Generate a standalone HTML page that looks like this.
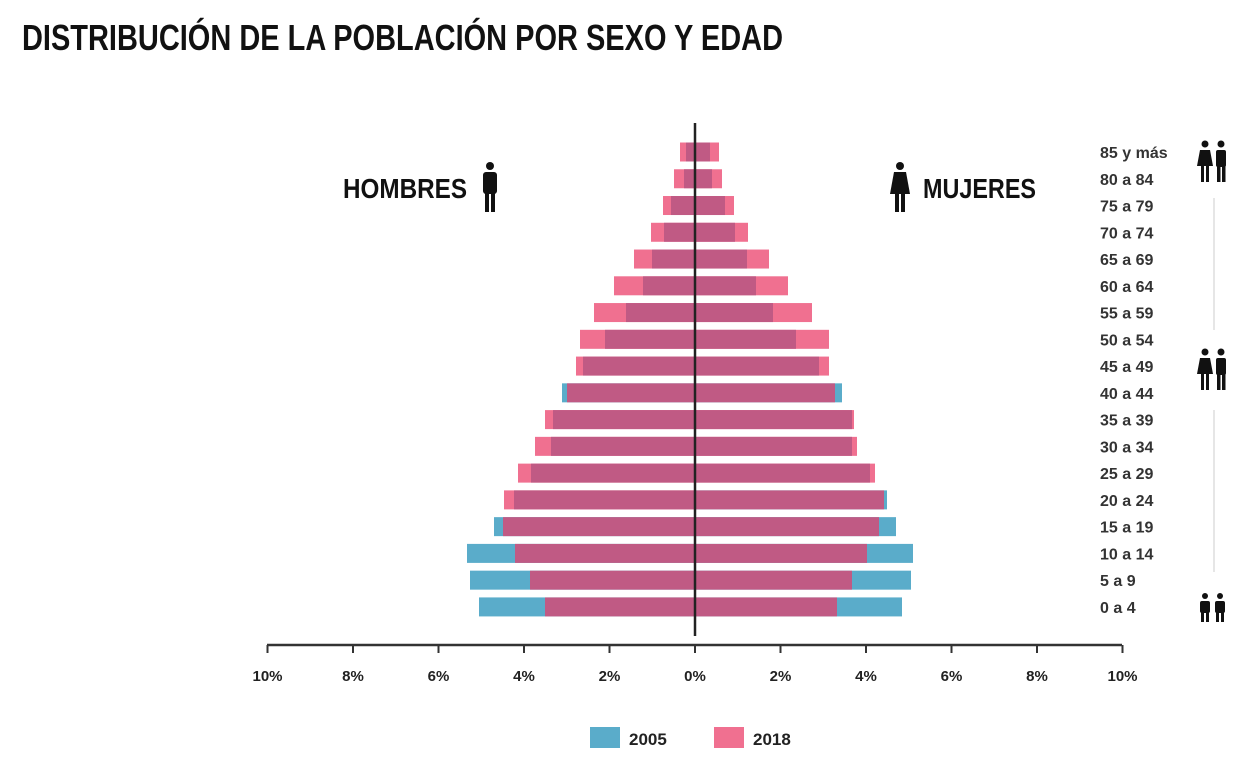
<!DOCTYPE html>
<html><head><meta charset="utf-8"><style>
body{margin:0;background:#fff;}
svg{display:block;font-family:"Liberation Sans",sans-serif;}
</style></head><body>
<svg width="1250" height="772" viewBox="0 0 1250 772">
<text x="22" y="50" font-size="36" font-weight="bold" fill="#111" textLength="761" lengthAdjust="spacingAndGlyphs">DISTRIBUCIÓN DE LA POBLACIÓN POR SEXO Y EDAD</text>
<g id="bars"></g>
<line x1="695" y1="123" x2="695" y2="636" stroke="#222" stroke-width="2.5"/>
<line x1="267" y1="645" x2="1122" y2="645" stroke="#333" stroke-width="2.5"/>
<g id="ticks" font-size="15" font-weight="bold" fill="#222" text-anchor="middle"></g>
<text x="343" y="198" font-size="28" font-weight="bold" fill="#111" textLength="124" lengthAdjust="spacingAndGlyphs">HOMBRES</text>
<text x="923" y="198" font-size="28" font-weight="bold" fill="#111" textLength="113" lengthAdjust="spacingAndGlyphs">MUJERES</text>
<!-- man icon -->
<g fill="#111">
<circle cx="490" cy="166" r="4"/><rect x="483" y="172" width="14" height="22" rx="3"/><rect x="485" y="192" width="4" height="20"/><rect x="491" y="192" width="4" height="20"/>
<circle cx="900" cy="166" r="4"/><path d="M894 172h12l4 22h-20z"/><rect x="895" y="192" width="4" height="20"/><rect x="901" y="192" width="4" height="20"/>
</g>
<g id="labels" font-size="16" font-weight="bold" fill="#333"></g>
<g fill="#111">
<circle cx="1205" cy="144" r="3.5"/><path d="M1200 150h10l3 16h-16z"/><rect x="1201" y="164" width="3" height="18"/><rect x="1206" y="164" width="3" height="18"/>
<circle cx="1221" cy="144" r="3.5"/><rect x="1216" y="150" width="10" height="17" rx="2"/><rect x="1217" y="165" width="3.5" height="17"/><rect x="1222" y="165" width="3.5" height="17"/>
<circle cx="1205" cy="352" r="3.5"/><path d="M1200 358h10l3 16h-16z"/><rect x="1201" y="372" width="3" height="18"/><rect x="1206" y="372" width="3" height="18"/>
<circle cx="1221" cy="352" r="3.5"/><rect x="1216" y="358" width="10" height="17" rx="2"/><rect x="1217" y="373" width="3.5" height="17"/><rect x="1222" y="373" width="3.5" height="17"/>
<circle cx="1205" cy="596" r="3"/><rect x="1200" y="601" width="10" height="12" rx="2"/><rect x="1201" y="611" width="3" height="11"/><rect x="1206" y="611" width="3" height="11"/>
<circle cx="1220" cy="596" r="3"/><rect x="1215" y="601" width="10" height="12" rx="2"/><rect x="1216" y="611" width="3" height="11"/><rect x="1221" y="611" width="3" height="11"/>
</g>
<line x1="1214" y1="198" x2="1214" y2="330" stroke="#ddd" stroke-width="1.5"/>
<line x1="1214" y1="410" x2="1214" y2="572" stroke="#ddd" stroke-width="1.5"/>
<rect x="590" y="727" width="30" height="21" fill="#5aacca"/>
<text x="629" y="745" font-size="17" font-weight="bold" fill="#222">2005</text>
<rect x="714" y="727" width="30" height="21" fill="#f07090"/>
<text x="753" y="745" font-size="17" font-weight="bold" fill="#222">2018</text>
</svg>
<script>
var B="#5aacca",P="#f07090",M="#c05a84",ns="http://www.w3.org/2000/svg";
var labels=["85 y más","80 a 84","75 a 79","70 a 74","65 a 69","60 a 64","55 a 59","50 a 54","45 a 49","40 a 44","35 a 39","30 a 34","25 a 29","20 a 24","15 a 19","10 a 14","5 a 9","0 a 4"];
// [leftPink,leftBlue,rightPink,rightBlue]
var d=[[680,686,719,710],[674,684,722,712],[663,671,734,725],[651,664,748,735],[634,652,769,747],[614,643,788,756],[594,626,812,773],[580,605,829,796],[576,583,829,819],[567,562,835,842],[545,553,854,852],[535,551,857,852],[518,531,875,870],[504,514,884,887],[503,494,879,896],[515,467,867,913],[530,470,852,911],[545,479,837,902]];
function r(g,x1,x2,y,c){var e=document.createElementNS(ns,"rect");e.setAttribute("x",Math.min(x1,x2));e.setAttribute("width",Math.abs(x2-x1));e.setAttribute("y",y);e.setAttribute("height",19);e.setAttribute("fill",c);g.appendChild(e);}
var g=document.getElementById("bars"),lg=document.getElementById("labels");
d.forEach(function(v,i){var yc=152+i*26.76,y=yc-9.5;
 if(v[0]<v[1])r(g,v[0],695,y,P);else r(g,v[1],695,y,B);
 r(g,Math.max(v[0],v[1]),695,y,M);
 if(v[2]>v[3])r(g,695,v[2],y,P);else r(g,695,v[3],y,B);
 r(g,695,Math.min(v[2],v[3]),y,M);
 var t=document.createElementNS(ns,"text");t.setAttribute("x",1100);t.setAttribute("y",yc+6);t.textContent=labels[i];lg.appendChild(t);});
var tk=document.getElementById("ticks");
for(var k=-5;k<=5;k++){var x=695+k*85.5;var l=document.createElementNS(ns,"line");l.setAttribute("x1",x);l.setAttribute("x2",x);l.setAttribute("y1",645);l.setAttribute("y2",653);l.setAttribute("stroke","#333");l.setAttribute("stroke-width","2");tk.appendChild(l);
var t=document.createElementNS(ns,"text");t.setAttribute("x",x);t.setAttribute("y",681);t.textContent=Math.abs(k*2)+"%";tk.appendChild(t);}
</script>
</body></html>
